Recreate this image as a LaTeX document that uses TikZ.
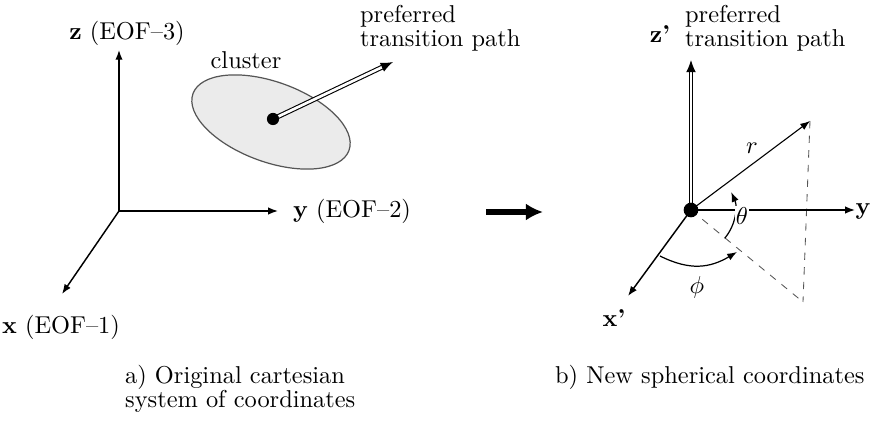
\documentclass[tikz,border=0pt]{standalone}
\usetikzlibrary{arrows.meta,positioning,calc}
\definecolor{ink}{HTML}{000000}
\definecolor{cloud}{HTML}{EBEBEB}
\definecolor{rim}{HTML}{555555}

\begin{document}
\begin{tikzpicture}[x=0.41pt,y=0.41pt,>={Latex[length=4pt,width=3pt]},line width=.6pt,every node/.style={font=\fontsize{10}{10}\selectfont,text=ink,inner sep=1pt},axis/.style={->,ink},pathway/.style={ink,double,double distance=1.1pt,line width=.45pt,-{Latex[length=5pt,width=4pt]}},guide/.style={dashed,rim,line width=.35pt},caption/.style={align=left,anchor=west},dot/.style={circle,fill=ink,inner sep=0pt}]
\path[use as bounding box] (0,0) rectangle (873,438);

% a) cartesian system
\coordinate (O1) at (119,227);
\coordinate (zend) at (119,388);
\coordinate (yend) at (278,227);
\coordinate (xend) at (62,144);
\draw[axis] (O1)--(zend);
\draw[axis] (O1)--(yend);
\draw[axis] (O1)--(xend);
\node (zlab) at (127,405) {\textbf{z} (EOF--3)};
\node[anchor=west] (ylab) at (290,227) {\textbf{y} (EOF--2)};
\node (xlab) at (61,111) {\textbf{x} (EOF--1)};
\fill[cloud,draw=rim,line width=.5pt,rotate around={-20:(271,316)}] (271,316) ellipse [x radius=83,y radius=40];
\coordinate (c1) at (273,319);
\coordinate (p1) at (393,376);
\draw[pathway] (c1)--(p1);
\node[dot,minimum size=5pt] (c1dot) at (c1) {};
\node (clab) at (246,378) {cluster};
\node[caption] (p1lab) at (357,410) {preferred\\transition path};

% arrow between panels
\coordinate (bigL) at (486,226);
\coordinate (bigR) at (543,226);
\draw[ink,line width=2.6pt,-{Latex[length=7pt,width=7pt]}] (bigL)--(bigR);

% b) spherical system
\coordinate (O2) at (691,228);
\coordinate (z2end) at (691,378);
\coordinate (y2end) at (855,228);
\coordinate (x2end) at (628,142);
\coordinate (rend) at (810,317);
\coordinate (foot) at (803,136);
\draw[guide] (rend)--(foot);
\draw[guide] (O2)--(foot);
\draw[pathway] (O2)--(z2end);
\draw[axis] (O2)--(y2end);
\draw[axis] (O2)--(x2end);
\draw[->,line width=.45pt] (O2)--(rend);
\node[dot,minimum size=6pt] (O2dot) at (O2) {};
\node (z2lab) at (660,404) {\textbf{z'}};
\node[caption] (p2lab) at (682,410) {preferred\\transition path};
\node (y2lab) at (863,226) {\textbf{y}};
\node (x2lab) at (614,120) {\textbf{x'}};
\node (rlab) at (752,290) {$r$};
\draw[->,line width=.5pt] ($(O2)+(-40:44)$) arc[start angle=-40,end angle=24,radius=44];
\node[fill=white,inner sep=.5pt] (tlab) at (742,222) {$\theta$};
\coordinate (f0) at (660,182);
\coordinate (f1) at (737,186);
\draw[->,line width=.5pt] (f0) .. controls (690,167) and (710,170) .. (f1);
\node (flab) at (697,151) {$\phi$};

% captions
\node[caption] (acap) at (122,49) {a) Original cartesian\\system of coordinates};
\node[caption] (bcap) at (552,61) {b) New spherical coordinates};
\end{tikzpicture}
\end{document}
